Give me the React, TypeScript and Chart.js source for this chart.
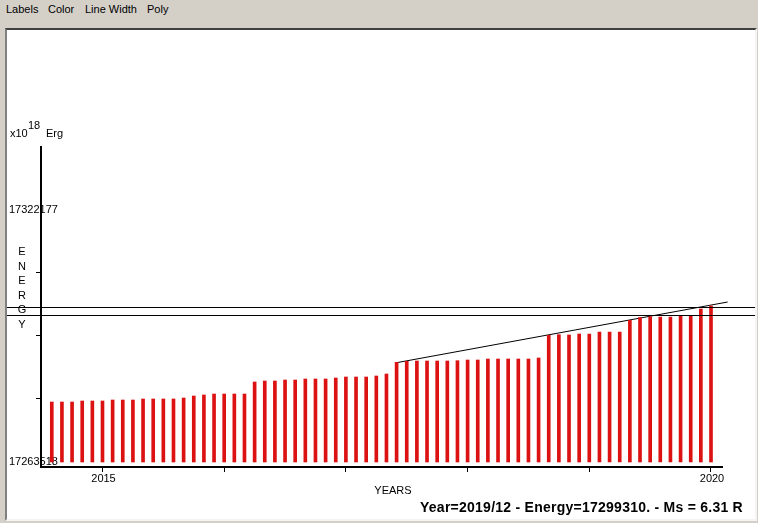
import React, { useEffect, useRef } from "react";
import { Chart, registerables } from "chart.js";

Chart.register(...registerables);

// ---- data ----
const months: string[] = [
  "2014/07", "2014/08", "2014/09", "2014/10", "2014/11", "2014/12",
  "2015/01", "2015/02", "2015/03", "2015/04", "2015/05", "2015/06",
  "2015/07", "2015/08", "2015/09", "2015/10", "2015/11", "2015/12",
  "2016/01", "2016/02", "2016/03", "2016/04", "2016/05", "2016/06",
  "2016/07", "2016/08", "2016/09", "2016/10", "2016/11", "2016/12",
  "2017/01", "2017/02", "2017/03", "2017/04", "2017/05", "2017/06",
  "2017/07", "2017/08", "2017/09", "2017/10", "2017/11", "2017/12",
  "2018/01", "2018/02", "2018/03", "2018/04", "2018/05", "2018/06",
  "2018/07", "2018/08", "2018/09", "2018/10", "2018/11", "2018/12",
  "2019/01", "2019/02", "2019/03", "2019/04", "2019/05", "2019/06",
  "2019/07", "2019/08", "2019/09", "2019/10", "2019/11", "2019/12",
];

const energy: number[] = [
  17277484, 17277484, 17277484, 17277717, 17277717, 17277717,
  17277950, 17277950, 17277950, 17278183, 17278183, 17278183,
  17278183, 17278415, 17278881, 17279114, 17279346, 17279346,
  17279346, 17279346, 17282140, 17282372, 17282372, 17282605,
  17282605, 17282838, 17282838, 17282838, 17283071, 17283303,
  17283303, 17283303, 17283536, 17284002, 17286725, 17286958,
  17287028, 17287028, 17287028, 17287028, 17287098, 17287261,
  17287261, 17287493, 17287493, 17287493, 17287493, 17287493,
  17287726, 17293010, 17293150, 17293080, 17293313, 17293313,
  17293778, 17293778, 17293778, 17296502, 17297153, 17297339,
  17297270, 17297270, 17297502, 17297502, 17299132, 17299830,
];

const barBase = 17263518;
const yRange: number[] = [17262354, 17336841];
const xRange: number[] = [2014.4947, 2020.0904];

const yTickValues: number[] = [17263518, 17278183, 17292848, 17307512, 17322177];
const yTickLabels: string[] = ["17263518", "", "", "", "17322177"];

const xTickYears: number[] = [2015, 2016, 2017, 2018, 2019, 2020];
const xTickLabels: string[] = ["2015", "", "", "", "", "2020"];

const trendX: number[] = [2017.4167, 2020.137];
const trendY: number[] = [17286632, 17300761];

const levelLines: number[] = [17299528, 17297665];

const menuItems: string[] = ["Labels", "Color", "Line Width", "Poly"];
const statusText = "Year=2019/12 - Energy=17299310. - Ms = 6.31 R";
const yUnit = { base: "x10", exp: "18", unit: "Erg" };
const yTitle = "ENERGY";
const xTitle = "YEARS";

const FONT = "'Liberation Sans', Arial, sans-serif";

function toYear(m: string): number {
  const [y, mo] = m.split("/").map(Number);
  return y + mo / 12;
}

const textPlugin = {
  id: "textPlugin",
  beforeDraw(chart: any) {
    const ctx = chart.ctx;
    const ys = chart.scales.y;
    const xs = chart.scales.x;
    ctx.save();
    ctx.fillStyle = "#000";
    ctx.font = `11px ${FONT}`;
    ctx.textBaseline = "middle";
    ctx.textAlign = "left";
    yTickValues.forEach((v, i) => {
      if (yTickLabels[i]) ctx.fillText(yTickLabels[i], 9, ys.getPixelForValue(v));
    });
    // x tick labels
    ctx.textAlign = "center";
    xTickYears.forEach((v, i) => {
      if (xTickLabels[i]) ctx.fillText(xTickLabels[i], xs.getPixelForValue(v) + 1, 479);
    });
    // unit
    ctx.textAlign = "left";
    ctx.textBaseline = "alphabetic";
    ctx.fillText(yUnit.base, 10, 137);
    ctx.fillText(yUnit.exp, 28, 129);
    ctx.fillText(yUnit.unit, 46, 137);
    // vertical stacked title
    ctx.textAlign = "center";
    ctx.textBaseline = "middle";
    yTitle.split("").forEach((ch, i) => {
      ctx.fillText(ch, 22, 252 + i * 14.5);
    });
    // x title
    ctx.fillText(xTitle, 393, 491);
    // status
    ctx.font = `bold 14px ${FONT}`;
    try {
      ctx.letterSpacing = "0.25px";
    } catch (e) {}
    ctx.textAlign = "left";
    ctx.textBaseline = "alphabetic";
    ctx.fillText(statusText, 420, 512);
    ctx.restore();
  },
  afterDraw(chart: any) {
    const ctx = chart.ctx;
    const ys = chart.scales.y;
    ctx.save();
    ctx.strokeStyle = "#000";
    ctx.lineWidth = 1;
    levelLines.forEach((v) => {
      const p = Math.round(ys.getPixelForValue(v)) + 0.5;
      ctx.beginPath();
      ctx.moveTo(7, p);
      ctx.lineTo(755, p);
      ctx.stroke();
    });
    ctx.restore();
  },
};

export default function App() {
  const ref = useRef<HTMLCanvasElement | null>(null);

  useEffect(() => {
    if (!ref.current) return;
    const chart = new Chart(ref.current, {
      type: "bar",
      data: {
        datasets: [
          {
            type: "bar",
            data: months.map((m, i) => ({ x: toYear(m), y: [barBase, energy[i]] })) as any,
            backgroundColor: "#dc1212",
            barThickness: 3,
            borderWidth: 0,
          } as any,
          {
            type: "line",
            data: trendX.map((x, i) => ({ x, y: trendY[i] })) as any,
            borderColor: "#000",
            borderWidth: 1,
            pointRadius: 0,
            clip: false,
          } as any,
        ],
      },
      options: {
        animation: false,
        responsive: false,
        devicePixelRatio: 1,
        layout: { padding: { left: 36, top: 147, right: 36, bottom: 51 } },
        plugins: { legend: { display: false }, tooltip: { enabled: false }, title: { display: false } },
        scales: {
          x: {
            type: "linear",
            offset: false,
            min: xRange[0],
            max: xRange[1],
            afterBuildTicks: (s: any) => {
              s.ticks = xTickYears.map((v) => ({ value: v }));
            },
            afterFit: (s: any) => {
              s.height = 5;
            },
            ticks: { display: false },
            grid: {
              offset: false,
              drawOnChartArea: false,
              drawTicks: true,
              tickLength: 5,
              color: "#000",
              lineWidth: 1,
            },
            border: { display: true, color: "#000", width: 2 },
          },
          y: {
            type: "linear",
            min: yRange[0],
            max: yRange[1],
            afterBuildTicks: (s: any) => {
              s.ticks = yTickValues.map((v) => ({ value: v }));
            },
            afterFit: (s: any) => {
              s.width = 5;
            },
            ticks: { display: false },
            grid: {
              drawOnChartArea: false,
              drawTicks: true,
              tickLength: 5,
              lineWidth: 1,
              color: (c: any) => (yTickLabels[c.index] ? "rgba(0,0,0,0)" : "#000"),
            },
            border: { display: true, color: "#000", width: 2 },
          },
        },
      },
      plugins: [textPlugin],
    } as any);
    return () => chart.destroy();
  }, []);

  const menuX = [6, 48, 85, 147];

  return (
    <div
      style={{
        position: "fixed",
        left: 0,
        top: 0,
        width: 758,
        height: 523,
        background: "#d4d0c8",
        overflow: "hidden",
        fontFamily: FONT,
      }}
    >
      {menuItems.map((m, i) => (
        <span
          key={m}
          style={{ position: "absolute", left: menuX[i], top: 3, fontSize: 11, color: "#000", whiteSpace: "nowrap" }}
        >
          {m}
        </span>
      ))}
      <div
        style={{
          position: "absolute",
          left: 5,
          top: 28,
          width: 748,
          height: 489,
          background: "#fff",
          borderTop: "2px solid #404040",
          borderLeft: "2px solid #808080",
          borderRight: "2px solid #f4f4f4",
          borderBottom: "2px solid #f4f4f4",
        }}
      />
      <canvas
        ref={ref}
        width={758}
        height={523}
        style={{ position: "absolute", left: 0, top: 0, width: 758, height: 523 }}
      />
    </div>
  );
}
